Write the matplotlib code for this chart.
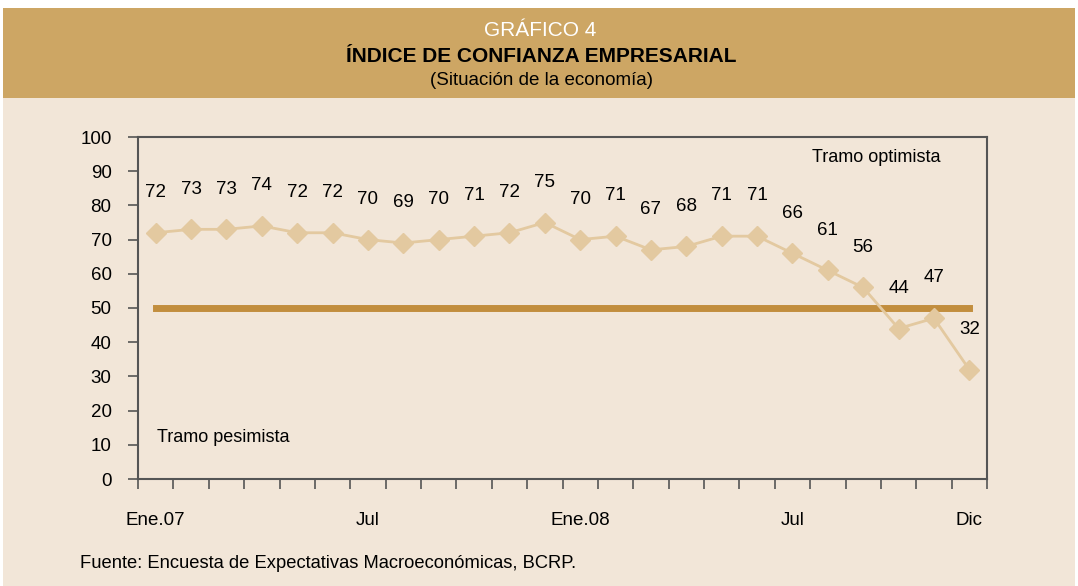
import numpy as np
import matplotlib.pyplot as plt
from matplotlib.patches import Rectangle

plt.rcParams['font.family'] = ['Liberation Sans', 'DejaVu Sans']

# ========== datos ==========
valores = [72, 73, 73, 74, 72, 72, 70, 69, 70, 71, 72, 75,
           70, 71, 67, 68, 71, 71, 66, 61, 56, 44, 47, 32]
umbral = [50] * len(valores)
etiquetas_pos = [0, 6, 12, 18, 23]
etiquetas_x = ['Ene.07', 'Jul', 'Ene.08', 'Jul', 'Dic']

W, H = 1078, 586
fig = plt.figure(figsize=(W / 100, H / 100), dpi=100, facecolor='white')

# fondo y banda de titulo
fig.patches.append(Rectangle((3 / W, 0), 1 - 6 / W, 1 - 98 / H, transform=fig.transFigure,
                             facecolor='#F2E6D8', edgecolor='none', zorder=-10))
fig.patches.append(Rectangle((3 / W, 1 - 98 / H), 1 - 6 / W, 90 / H, transform=fig.transFigure,
                             facecolor='#CDA664', edgecolor='none', zorder=-10))

fig.text(540 / W, 1 - 30 / H, 'GRÁFICO 4', color='white', fontsize=15, ha='center', va='center')
fig.text(541 / W, 1 - 57 / H, 'ÍNDICE DE CONFIANZA EMPRESARIAL', color='black', fontsize=15,
         fontweight='bold', ha='center', va='center')
fig.text(542 / W, 1 - 81 / H, '(Situación de la economía)', color='black', fontsize=13.5,
         ha='center', va='center')
fig.text(80 / W, 1 - 563 / H, 'Fuente: Encuesta de Expectativas Macroeconómicas, BCRP.',
         fontsize=13.2, ha='left', va='center')

ax = fig.add_axes([138 / W, 1 - 479 / H, (987 - 138) / W, (479 - 137) / H])
ax.set_facecolor('none')

x = np.arange(len(valores))
ax.plot(x, umbral, color='#C28E3E', lw=5, solid_capstyle='projecting', zorder=2)
ax.plot(x, valores, color='#E3C9A0', lw=2, marker='D', markersize=10.5,
        markerfacecolor='#E3C9A0', markeredgecolor='#E3C9A0', zorder=3)

for xi, v in zip(x, valores):
    ax.annotate(str(v), (xi, v), xytext=(0, 29), textcoords='offset points',
                ha='center', va='center', fontsize=13.5)

ax.set_xlim(-0.5, len(valores) - 0.5)
ax.set_ylim(0, 100)
ax.set_yticks(np.arange(0, 101, 10))
ax.set_xticks(etiquetas_pos)
ax.set_xticklabels(etiquetas_x)
ax.set_xticks(np.arange(-0.5, len(valores), 1), minor=True)
ax.tick_params(axis='x', which='major', length=0, pad=24, labelsize=13.5)
ax.tick_params(axis='x', which='minor', length=7, width=1.2, color='#555555', direction='out')
ax.tick_params(axis='y', length=7, width=1.2, color='#555555', pad=12, labelsize=13.5)

for s in ax.spines.values():
    s.set_color('#555555')
    s.set_linewidth(1.5)

ax.text(0.945, 0.939, 'Tramo optimista', transform=ax.transAxes, ha='right', va='center', fontsize=13)
ax.text(0.022, 0.12, 'Tramo pesimista', transform=ax.transAxes, ha='left', va='center', fontsize=13)

fig.savefig('out.png', dpi=100, facecolor='white')
